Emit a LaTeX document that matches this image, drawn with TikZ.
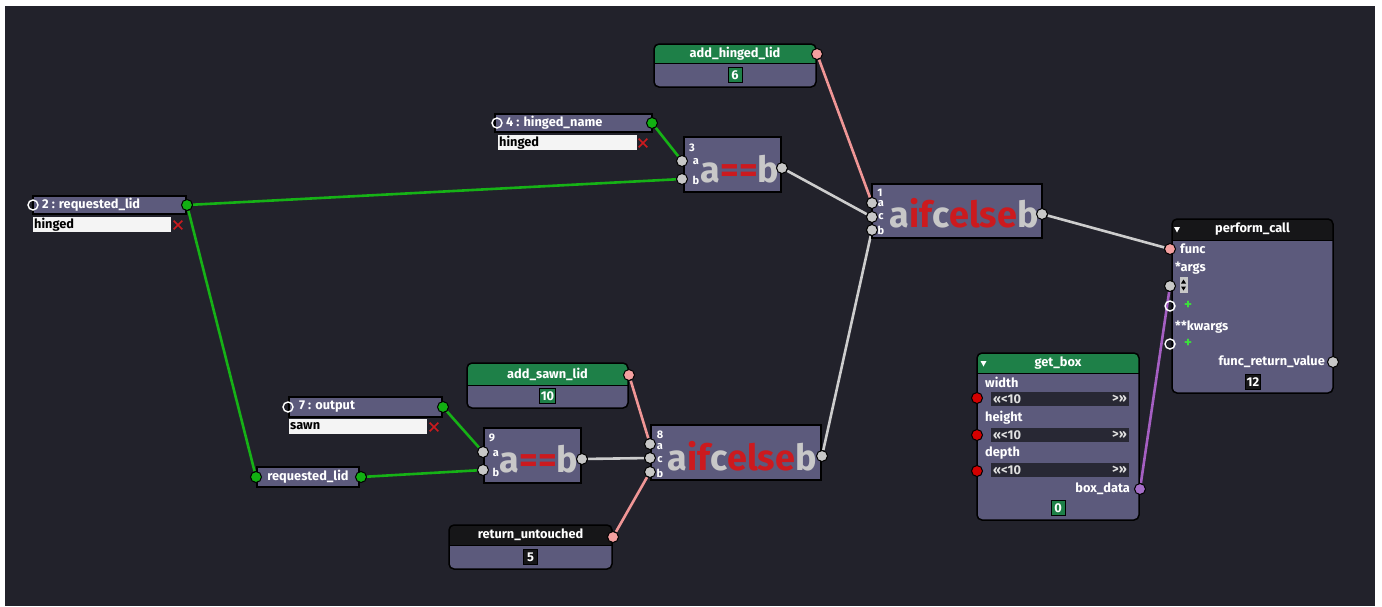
\documentclass[tikz,border=0pt]{standalone}
\usepackage{fontspec}
\setmainfont{Fira Sans}
\usetikzlibrary{shapes.misc,positioning}

\definecolor{bgdark}{RGB}{34,34,43}
\definecolor{slate}{RGB}{92,90,124}
\definecolor{hdgreen}{RGB}{30,128,72}
\definecolor{hdblack}{RGB}{22,22,24}
\definecolor{wiregreen}{RGB}{22,178,22}
\definecolor{wiregrey}{RGB}{205,205,205}
\definecolor{wirepink}{RGB}{240,150,150}
\definecolor{wirepurple}{RGB}{165,95,195}
\definecolor{sockgreen}{RGB}{18,176,18}
\definecolor{sockgrey}{RGB}{200,200,200}
\definecolor{sockpink}{RGB}{244,160,160}
\definecolor{sockred}{RGB}{212,0,0}
\definecolor{sockpurple}{RGB}{165,110,200}
\definecolor{opred}{RGB}{204,26,30}
\definecolor{opgrey}{RGB}{200,200,200}
\definecolor{entrywhite}{RGB}{244,244,244}
\definecolor{fielddark}{RGB}{40,40,52}
\definecolor{plusgreen}{RGB}{60,225,60}

\newcommand{\lblfont}{\fontsize{12.8}{14}\selectfont\bfseries}
\newcommand{\pinfont}{\fontsize{11}{12}\selectfont\bfseries}
\newcommand{\opfont}{\fontsize{36}{36}\selectfont\bfseries}

\pgfdeclarelayer{canvas}
\pgfdeclarelayer{wires}
\pgfsetlayers{canvas,wires,main}

\tikzset{
    nodeframe/.style = {draw=black, line width=1.5pt, fill=slate},
    headtext/.style = {text=white, font=\lblfont, inner sep=0pt},
    pinlabel/.style = {text=white, font=\pinfont, inner sep=0pt},
    entrytext/.style = {text=black, font=\lblfont, inner sep=1pt},
    bigop/.style = {text=opgrey, font=\opfont, inner sep=0pt, anchor=base},
    valbox/.style = {draw=black, line width=1pt, text=white, font=\lblfont,
                     minimum width=14pt, minimum height=15pt, inner sep=1.5pt},
    sock/.style = {circle, draw=black, line width=1pt, minimum size=11pt, inner sep=0pt},
    opensock/.style = {circle, draw=white, line width=1.4pt, minimum size=10pt, inner sep=0pt},
    xmark/.style = {cross out, draw=opred, line width=1.7pt, minimum size=7pt, inner sep=0pt},
    wire/.style = {line width=2.6pt},
}

% box with coloured title bar: x1, y1, x2, y2, bar bottom, bar colour
\newcommand{\titledbox}[6]{%
    \begin{scope}
        \clip[rounded corners=5pt] (#1,#2) rectangle (#3,#4);
        \fill[slate] (#1,#2) rectangle (#3,#4);
        \fill[#6] (#1,#2) rectangle (#3,#5);
        \draw[black, line width=1pt] (#1,#5) -- (#3,#5);
    \end{scope}
    \draw[black, line width=1.5pt, rounded corners=5pt] (#1,#2) rectangle (#3,#4);
}

\begin{document}
\begin{tikzpicture}[x=1pt, y=-1pt]
    \useasboundingbox (0,0) rectangle (1382,606);
    \begin{pgfonlayer}{canvas}
        \fill[white] (0,0) rectangle (1382,606);
        \fill[bgdark] (5,6) rectangle (1375,606);
    \end{pgfonlayer}

    % --- variable nodes ---
    \draw[nodeframe] (33,196) rectangle (186,214);
    \node[headtext, anchor=west] (reqName) at (42,205) {2 : requested\_lid};
    \fill[entrywhite] (33,217) rectangle (171,232);
    \node[entrytext, anchor=west] (reqVal) at (33,224.5) {hinged};
    \node[xmark] (reqX) at (178,225) {};
    \node[opensock] (reqIn) at (33,205) {};
    \node[sock, fill=sockgreen] (reqOut) at (187,205) {};

    \draw[nodeframe] (495,114) rectangle (652,132);
    \node[headtext, anchor=west] (hingName) at (506,123) {4 : hinged\_name};
    \fill[entrywhite] (498,135) rectangle (637,150);
    \node[entrytext, anchor=west] (hingVal) at (498,142.5) {hinged};
    \node[xmark] (hingX) at (643,143) {};
    \node[opensock] (hingIn) at (497,123) {};
    \node[sock, fill=sockgreen] (hingOut) at (652,123) {};

    \draw[nodeframe] (289,397) rectangle (442,417);
    \node[headtext, anchor=west] (outName) at (299,407) {7 : output};
    \fill[entrywhite] (289,419) rectangle (427,434);
    \node[entrytext, anchor=west] (outVal) at (289,426.5) {sawn};
    \node[xmark] (outX) at (434,427) {};
    \node[opensock] (outIn) at (288,407) {};
    \node[sock, fill=sockgreen] (outOut) at (443,407) {};

    % reroute of requested_lid
    \draw[nodeframe] (257,467) rectangle (359,487);
    \node[headtext] (rerName) at (308,477) {requested\_lid};
    \node[sock, fill=sockgreen] (rerIn) at (256,477) {};
    \node[sock, fill=sockgreen] (rerOut) at (361,477) {};

    % --- comparisons ---
    \draw[nodeframe] (684,137) rectangle (781,192);
    \node[pinlabel] (eq3Id) at (692,148) {3};
    \node[pinlabel] (eq3La) at (696,162) {a};
    \node[pinlabel] (eq3Lb) at (696,180) {b};
    \node[bigop] (eq3Op) at (740,182) {a\textcolor{opred}{==}b};
    \node[sock, fill=sockgrey] (eq3A) at (682,161) {};
    \node[sock, fill=sockgrey] (eq3B) at (682,179) {};
    \node[sock, fill=sockgrey] (eq3Out) at (782,168) {};

    \draw[nodeframe] (484,428) rectangle (581,483);
    \node[pinlabel] (eq9Id) at (492,438) {9};
    \node[pinlabel] (eq9La) at (496,454) {a};
    \node[pinlabel] (eq9Lb) at (496,472) {b};
    \node[bigop] (eq9Op) at (539,472) {a\textcolor{opred}{==}b};
    \node[sock, fill=sockgrey] (eq9A) at (483,452) {};
    \node[sock, fill=sockgrey] (eq9B) at (483,470) {};
    \node[sock, fill=sockgrey] (eq9Out) at (582,459) {};

    % --- conditionals ---
    \draw[nodeframe] (872,184) rectangle (1042,238);
    \node[pinlabel] (ife1Id) at (880,193) {1};
    \node[pinlabel] (ife1La) at (881,204) {a};
    \node[pinlabel] (ife1Lc) at (881,217) {c};
    \node[pinlabel] (ife1Lb) at (881,230) {b};
    \node[bigop] (ife1Op) at (964,227)
        {a\textcolor{opred}{if}c\textcolor{opred}{else}b};
    \node[sock, fill=sockgrey] (ife1A) at (872,203) {};
    \node[sock, fill=sockgrey] (ife1C) at (872,217) {};
    \node[sock, fill=sockgrey] (ife1B) at (872,230) {};
    \node[sock, fill=sockgrey] (ife1Out) at (1042,214) {};

    \draw[nodeframe] (651,425) rectangle (821,480);
    \node[pinlabel] (ife8Id) at (660,435) {8};
    \node[pinlabel] (ife8La) at (660,447) {a};
    \node[pinlabel] (ife8Lc) at (660,460) {c};
    \node[pinlabel] (ife8Lb) at (660,473) {b};
    \node[bigop] (ife8Op) at (742,470)
        {a\textcolor{opred}{if}c\textcolor{opred}{else}b};
    \node[sock, fill=sockgrey] (ife8A) at (650,444) {};
    \node[sock, fill=sockgrey] (ife8C) at (650,458) {};
    \node[sock, fill=sockgrey] (ife8B) at (650,472) {};
    \node[sock, fill=sockgrey] (ife8Out) at (822,456) {};

    % --- constants ---
    \titledbox{654}{44}{816}{87}{63}{hdgreen}
    \node[headtext] (hingedLid) at (735,53.5) {add\_hinged\_lid};
    \node[valbox, fill=hdgreen] (hingedLidId) at (735,75) {6};
    \node[sock, fill=sockpink] (hingedLidOut) at (817,54) {};

    \titledbox{467}{363}{628}{408}{385}{hdgreen}
    \node[headtext] (sawnLid) at (547.5,374) {add\_sawn\_lid};
    \node[valbox, fill=hdgreen] (sawnLidId) at (547.5,396) {10};
    \node[sock, fill=sockpink] (sawnLidOut) at (629,375) {};

    \titledbox{449}{525}{612}{569}{545}{hdblack}
    \node[headtext] (untouched) at (530.5,535) {return\_untouched};
    \node[valbox, fill=hdblack] (untouchedId) at (530.5,557) {5};
    \node[sock, fill=sockpink] (untouchedOut) at (613,537) {};

    % --- get_box ---
    \titledbox{977}{353}{1139}{520}{373}{hdgreen}
    \node[headtext] (getBox) at (1058,363) {get\_box};
    \fill[white] (980.5,361) -- (986.5,361) -- (983.5,366.5) -- cycle;
    \foreach \y/\name in {382/width, 418/height, 453/depth} {
        \node[headtext, anchor=west] (box-\name) at (985,\y) {\name};
        \fill[fielddark] (991,\y+10) rectangle (1129,\y+24);
        \node[headtext, anchor=west, text=white!88!black] at (993,\y+17) {«<10};
        \node[headtext, anchor=east, text=white!88!black] at (1127,\y+17) {>»};
    }
    \node[sock, fill=sockred] (boxW) at (977,398) {};
    \node[sock, fill=sockred] (boxH) at (977,435) {};
    \node[sock, fill=sockred] (boxD) at (977,471) {};
    \node[headtext, anchor=east] (boxData) at (1130,489) {box\_data};
    \node[sock, fill=sockpurple] (boxOut) at (1140,489) {};
    \node[valbox, fill=hdgreen] (getBoxId) at (1058,508) {0};

    % --- perform_call ---
    \titledbox{1172}{219}{1333}{393}{240}{hdblack}
    \node[headtext] (call) at (1252.5,229.5) {perform\_call};
    \fill[white] (1174,227) -- (1180,227) -- (1177,232.5) -- cycle;
    \node[headtext, anchor=west] (callFuncName) at (1180,249) {func};
    \node[headtext, anchor=west] (callArgsName) at (1175,268) {*args};
    \node[fill=sockgrey, minimum width=8pt, minimum height=16pt, inner sep=0pt] (argSpin) at (1183.5,285) {};
    \fill[black] (1181,283.5) -- (1186,283.5) -- (1183.5,279.5) -- cycle;
    \fill[black] (1181,286.5) -- (1186,286.5) -- (1183.5,290.5) -- cycle;
    \node[text=plusgreen, font=\fontsize{15}{15}\selectfont\bfseries, inner sep=0pt] (argsPlus) at (1188,305) {+};
    \node[headtext, anchor=west] (callKwName) at (1175,327) {**kwargs};
    \node[text=plusgreen, font=\fontsize{15}{15}\selectfont\bfseries, inner sep=0pt] (kwPlus) at (1188,343) {+};
    \node[headtext, anchor=east] (callRet) at (1325,362) {func\_return\_value};
    \node[valbox, fill=hdblack] (callId) at (1253,382) {12};
    \node[sock, fill=sockpink] (callFunc) at (1170,249) {};
    \node[sock, fill=sockgrey] (callArgs) at (1170,286) {};
    \node[opensock] (callArgsNew) at (1170,306) {};
    \node[opensock] (callKwNew) at (1170,344) {};
    \node[sock, fill=sockgrey] (callOut) at (1333,362) {};

    % --- links ---
    \begin{pgfonlayer}{wires}
        \draw[wire, wiregreen] (reqOut) -- (eq3B);
        \draw[wire, wiregreen] (reqOut) -- (rerIn);
        \draw[wire, wiregreen] (hingOut) -- (eq3A);
        \draw[wire, wiregreen] (outOut) -- (eq9A);
        \draw[wire, wiregreen] (rerOut) -- (eq9B);
        \draw[wire, wiregrey] (eq3Out) -- (ife1C);
        \draw[wire, wiregrey] (ife8Out) -- (ife1B);
        \draw[wire, wiregrey] (eq9Out) -- (ife8C);
        \draw[wire, wiregrey] (ife1Out) -- (callFunc);
        \draw[wire, wirepink] (hingedLidOut) -- (ife1A);
        \draw[wire, wirepink] (sawnLidOut) -- (ife8A);
        \draw[wire, wirepink] (untouchedOut) -- (ife8B);
        \draw[wire, wirepurple] (boxOut) -- (callArgs);
    \end{pgfonlayer}
\end{tikzpicture}
\end{document}
